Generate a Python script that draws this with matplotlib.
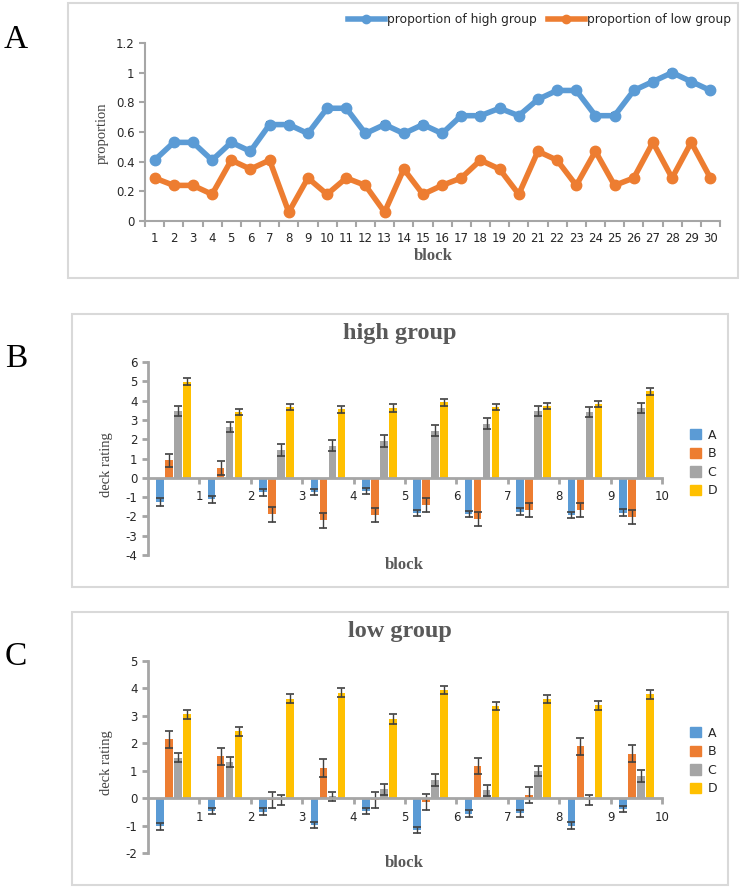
import matplotlib
matplotlib.use("Agg")
import matplotlib.pyplot as plt
from matplotlib.patches import Rectangle, Patch
from matplotlib.lines import Line2D
import numpy as np

# ---- data ----
blocks_a = list(range(1, 31))
high_prop = [0.41, 0.53, 0.53, 0.41, 0.53, 0.47, 0.65, 0.65, 0.59, 0.76,
             0.76, 0.59, 0.65, 0.59, 0.65, 0.59, 0.71, 0.71, 0.76, 0.71,
             0.82, 0.88, 0.88, 0.71, 0.71, 0.88, 0.94, 1.00, 0.94, 0.88]
low_prop = [0.29, 0.24, 0.24, 0.18, 0.41, 0.35, 0.41, 0.06, 0.29, 0.18,
            0.29, 0.24, 0.06, 0.35, 0.18, 0.24, 0.29, 0.41, 0.35, 0.18,
            0.47, 0.41, 0.24, 0.47, 0.24, 0.29, 0.53, 0.29, 0.53, 0.29]
prop_err = 0.015

blocks_b = list(range(1, 11))
decks = ["A", "B", "C", "D"]

high_A = [-1.25, -1.10, -0.76, -0.75, -0.68, -1.83, -1.87, -1.75, -1.92, -1.80]
high_B = [0.90, 0.50, -1.90, -2.20, -1.94, -1.40, -2.13, -1.68, -1.67, -2.04]
high_C = [3.45, 2.63, 1.43, 1.67, 1.92, 2.43, 2.80, 3.46, 3.41, 3.61]
high_D = [4.97, 3.42, 3.66, 3.55, 3.60, 3.92, 3.65, 3.70, 3.84, 4.49]
high_A_err = [0.22, 0.18, 0.17, 0.16, 0.15, 0.17, 0.17, 0.17, 0.17, 0.17]
high_B_err = [0.35, 0.38, 0.37, 0.39, 0.37, 0.35, 0.36, 0.37, 0.36, 0.36]
high_C_err = [0.27, 0.27, 0.30, 0.30, 0.30, 0.28, 0.28, 0.28, 0.26, 0.26]
high_D_err = [0.18, 0.17, 0.14, 0.18, 0.20, 0.18, 0.16, 0.15, 0.16, 0.18]

low_A = [-1.02, -0.47, -0.49, -0.98, -0.47, -1.17, -0.57, -0.55, -1.00, -0.39]
low_B = [2.14, 1.52, -0.06, 1.10, -0.06, -0.15, 1.18, 0.11, 1.89, 1.62]
low_C = [1.47, 1.33, -0.06, 0.06, 0.32, 0.66, 0.28, 1.00, -0.06, 0.80]
low_D = [3.06, 2.43, 3.63, 3.85, 2.88, 3.94, 3.36, 3.62, 3.39, 3.78]
low_A_err = [0.13, 0.11, 0.12, 0.10, 0.11, 0.10, 0.12, 0.12, 0.12, 0.11]
low_B_err = [0.32, 0.30, 0.30, 0.32, 0.30, 0.29, 0.29, 0.29, 0.32, 0.31]
low_C_err = [0.17, 0.18, 0.18, 0.18, 0.19, 0.22, 0.19, 0.19, 0.18, 0.21]
low_D_err = [0.16, 0.16, 0.16, 0.16, 0.17, 0.16, 0.16, 0.15, 0.16, 0.17]

# ---- style ----
plt.rcParams['axes.unicode_minus'] = False
plt.rcParams['font.family'] = 'DejaVu Sans'
W, H = 742, 889
blue, orange, gray, yellow = '#5B9BD5', '#ED7D31', '#A5A5A5', '#FFC000'
deck_colors = [blue, orange, gray, yellow]
spine_c = '#A6A6A6'
err_c = '#404040'
text_c = '#262626'
label_c = '#595959'
serif = 'Liberation Serif'

fig = plt.figure(figsize=(W / 100, H / 100), dpi=100)


def px_axes(x0, y0, x1, y1):
    return fig.add_axes([x0 / W, 1 - y1 / H, (x1 - x0) / W, (y1 - y0) / H])


def frame(x0, y0, x1, y1):
    fig.add_artist(Rectangle((x0 / W, 1 - y1 / H), (x1 - x0) / W, (y1 - y0) / H,
                             transform=fig.transFigure, fill=False,
                             edgecolor='#D9D9D9', lw=1.5))


def ftext(x, y, s, **kw):
    fig.text(x / W, 1 - y / H, s, **kw)


def style_axes(ax, lw):
    for s in ['top', 'right']:
        ax.spines[s].set_visible(False)
    for s in ['left', 'bottom']:
        ax.spines[s].set_color(spine_c)
        ax.spines[s].set_linewidth(lw)
    ax.tick_params(axis='both', which='both', colors=spine_c, width=lw,
                   labelcolor=text_c, labelsize=8.5)
    ax.set_facecolor('none')


# ---------------- panel A ----------------
frame(68, 3, 738, 278)
ftext(16, 40, 'A', fontsize=24, family=serif, ha='center', va='center')
axA = px_axes(145, 43, 720, 221)
style_axes(axA, 1.5)
for vals, c, lab in [(high_prop, blue, 'proportion of high group'),
                     (low_prop, orange, 'proportion of low group')]:
    axA.errorbar(blocks_a, vals, yerr=prop_err, color=c, lw=4, marker='o', ms=7.5,
                 ecolor=err_c, elinewidth=1, capsize=3, capthick=1.2, label=lab)
axA.set_xlim(0.5, 30.5)
axA.set_ylim(0, 1.2)
axA.set_yticks(np.arange(0, 1.21, 0.2))
axA.set_yticklabels([f'{v:g}' for v in np.arange(0, 1.21, 0.2)])
axA.set_xticks(blocks_a)
axA.set_xticks(np.arange(0.5, 31, 1), minor=True)
axA.tick_params(axis='x', which='major', length=0, pad=8)
axA.tick_params(axis='x', which='minor', length=4)
axA.tick_params(axis='y', length=4)
ftext(102, 133, 'proportion', family=serif, fontsize=10.5, color='#404040',
      rotation=90, ha='center', va='center')
ftext(433, 256, 'block', family=serif, fontsize=12, fontweight='bold',
      color=label_c, ha='center', va='center')
hA = [Line2D([], [], color=blue, lw=4, marker='o', ms=6),
      Line2D([], [], color=orange, lw=4, marker='o', ms=6)]
fig.legend(hA, ['proportion of high group', 'proportion of low group'],
           loc='center right', bbox_to_anchor=(736 / W, 1 - 20 / H), ncol=2,
           frameon=False, fontsize=8.8, handlelength=3.0, handletextpad=0.2,
           columnspacing=0.9, labelcolor=text_c, borderaxespad=0)


# ---------------- panels B, C ----------------
def bar_panel(letter, title, fy0, fy1, ay0, ay1, ylim, series, errs, leg_y):
    frame(72, fy0, 728, fy1)
    ftext(16, fy0 + 45, letter, fontsize=24, family=serif, ha='center', va='center')
    ax = px_axes(148, ay0, 662, ay1)
    style_axes(ax, 2)
    x = np.arange(len(blocks_b)) + 0.5
    step, width = 0.175, 0.145
    for i, (vals, e, c) in enumerate(zip(series, errs, deck_colors)):
        pos = x + (i - 1.5) * step
        ax.bar(pos, vals, width=width, color=c, label=decks[i], zorder=2)
        ax.errorbar(pos, vals, yerr=e, fmt='none', ecolor=err_c, elinewidth=1,
                    capsize=3, capthick=1.2, zorder=3)
    ax.set_xlim(0, 10)
    ax.set_ylim(*ylim)
    ax.set_yticks(range(ylim[0], ylim[1] + 1))
    ax.spines['bottom'].set_position(('data', 0))
    ax.set_xticks(blocks_b)
    ax.tick_params(axis='x', length=4, pad=5)
    ax.tick_params(axis='y', length=4)
    ax.spines['bottom'].set_zorder(4)
    ftext(400, fy0 + 20, title, family=serif, fontsize=17.5, fontweight='bold',
          color=label_c, ha='center', va='center')
    ftext(107, (ay0 + ay1) / 2 + 6, 'deck rating', family=serif, fontsize=10.5,
          color='#404040', rotation=90, ha='center', va='center')
    ftext(404, ay1 + 10, 'block', family=serif, fontsize=12, fontweight='bold',
          color=label_c, ha='center', va='center')
    handles = [Patch(color=c) for c in deck_colors]
    fig.legend(handles, decks, loc='center left',
               bbox_to_anchor=(685 / W, 1 - leg_y / H), frameon=False,
               fontsize=9, handlelength=0.9, handleheight=0.9,
               handletextpad=0.5, labelspacing=0.45, labelcolor=text_c,
               borderaxespad=0)


bar_panel('B', 'high group', 314, 587, 362, 555, (-4, 6),
          [high_A, high_B, high_C, high_D],
          [high_A_err, high_B_err, high_C_err, high_D_err], 463)
bar_panel('C', 'low group', 612, 885, 661, 853, (-2, 5),
          [low_A, low_B, low_C, low_D],
          [low_A_err, low_B_err, low_C_err, low_D_err], 761)

fig.savefig('out.png', dpi=100, facecolor='white')
